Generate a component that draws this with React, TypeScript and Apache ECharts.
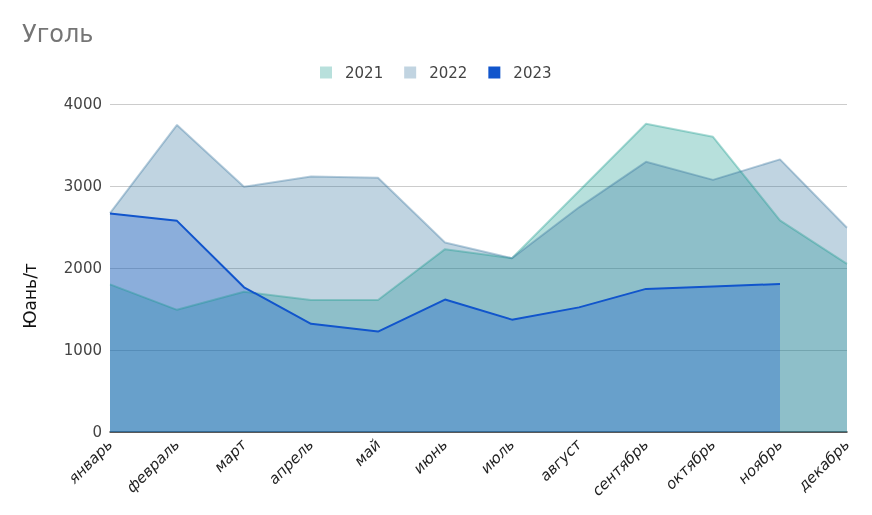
import React, { useEffect, useRef } from "react";
import * as echarts from "echarts";

const months = ["январь", "февраль", "март", "апрель", "май", "июнь", "июль", "август", "сентябрь", "октябрь", "ноябрь", "декабрь"];
const s2021 = [1800, 1490, 1710, 1610, 1610, 2230, 2120, 2940, 3760, 3600, 2580, 2050];
const s2022 = [2670, 3745, 2990, 3115, 3100, 2310, 2120, 2740, 3295, 3075, 3325, 2490];
const s2023: (number | null)[] = [2665, 2575, 1765, 1320, 1225, 1615, 1370, 1520, 1745, 1775, 1805, null];
const yTicks = [0, 1000, 2000, 3000, 4000];

const FONT = "DejaVu Sans";

export default function App() {
  const ref = useRef<HTMLDivElement>(null);
  useEffect(() => {
    if (!ref.current) return;
    const chart = echarts.init(ref.current, null, { renderer: "svg" });
    chart.setOption({
      animation: false,
      title: {
        text: "Уголь",
        left: 17,
        top: 17,
        textStyle: { color: "#757575", fontSize: 24, fontWeight: "normal", fontFamily: FONT },
      },
      legend: {
        top: 65,
        left: 320,
        padding: 0,
        icon: "rect",
        itemWidth: 12,
        itemHeight: 12,
        itemGap: 21,
        textStyle: { color: "#444", fontSize: 15, fontFamily: FONT, padding: [0, 0, 0, 8] },
        data: [
          { name: "2021", itemStyle: { color: "#b8e0dc" } },
          { name: "2022", itemStyle: { color: "#c1d4e1" } },
          { name: "2023", itemStyle: { color: "#1155cc" } },
        ],
      },
      grid: { left: 110, right: 25, top: 104, bottom: 83 },
      xAxis: {
        type: "category",
        data: months,
        boundaryGap: false,
        axisLine: { lineStyle: { color: "#333", width: 1.5 } },
        axisTick: { show: false },
        axisLabel: {
          rotate: 45,
          interval: 0,
          margin: 10,
          color: "#222",
          fontSize: 15,
          fontStyle: "italic",
          fontFamily: FONT,
        },
      },
      yAxis: {
        type: "value",
        min: yTicks[0],
        max: yTicks[yTicks.length - 1],
        interval: 1000,
        axisLine: { show: false },
        axisTick: { show: false },
        splitLine: { lineStyle: { color: "#cccccc" } },
        axisLabel: { color: "#444", fontSize: 15, fontFamily: FONT, margin: 8, formatter: (v: number) => String(v) },
      },
      graphic: [
        {
          type: "text",
          x: 30,
          y: 296,
          rotation: Math.PI / 2,
          style: {
            text: "Юань/т",
            fill: "#111",
            fontSize: 17,
            fontFamily: FONT,
            align: "center",
            verticalAlign: "middle",
          },
        },
      ],
      series: [
        {
          name: "2021",
          type: "line",
          data: s2021,
          symbol: "none",
          color: "#12988a",
          lineStyle: { color: "#12988a", width: 2, opacity: 0.35 },
          areaStyle: { color: "#12988a", opacity: 0.3 },
        },
        {
          name: "2022",
          type: "line",
          data: s2022,
          symbol: "none",
          color: "#30709b",
          lineStyle: { color: "#30709b", width: 2, opacity: 0.35 },
          areaStyle: { color: "#30709b", opacity: 0.3 },
        },
        {
          name: "2023",
          type: "line",
          data: s2023,
          symbol: "none",
          color: "#1155cc",
          lineStyle: { color: "#1155cc", width: 2 },
          areaStyle: { color: "#1155cc", opacity: 0.3 },
        },
      ],
    });
    return () => chart.dispose();
  }, []);
  return <div ref={ref} style={{ position: "fixed", left: 0, top: 0, width: 872, height: 515 }} />;
}
